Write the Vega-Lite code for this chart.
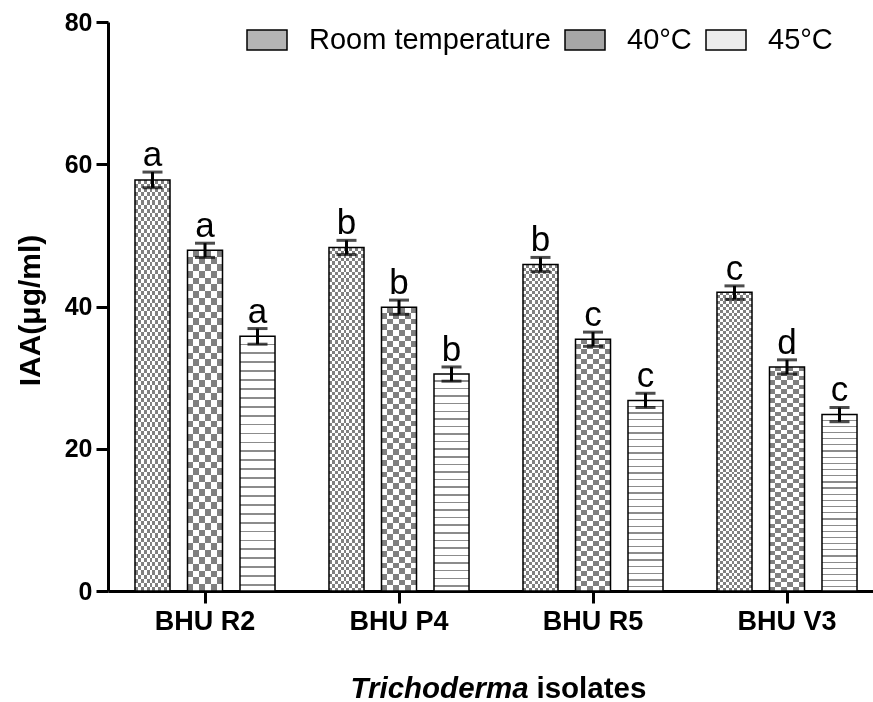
{
"$schema": "https://vega.github.io/schema/vega-lite/v6.json",
"width": 765, "height": 569,
"autosize": {"type": "none"},
"padding": {"left": 108, "top": 22, "right": 0, "bottom": 111},
"background": "white",
"config": {
 "view": {"stroke": null},
 "axis": {"domainColor": "#000", "domainWidth": 3, "tickColor": "#000", "tickWidth": 3, "labelFont": "Liberation Sans", "labelFontWeight": "bold", "labelColor": "#000", "titleFont": "Liberation Sans", "titleColor": "#000", "titleFontWeight": "bold", "grid": false},
 "axisY": {"tickCount": 4, "labelFontSize": 25, "tickSize": 12, "labelPadding": 4, "titleFontSize": 30, "titleAngle": 270, "titleX": -78, "titleY": 288, "titleAlign": "center", "titleBaseline": "middle"},
 "axisX": {"labelFontSize": 27, "tickSize": 12, "labelPadding": 5, "labelAngle": 0, "titleFontSize": 29.5}
},
"data": {"values": [
 {"isolate": "BHU R2", "temp": "Room temperature", "value": 57.8, "lo": 56.7, "hi": 58.9, "sig": "a"},
 {"isolate": "BHU R2", "temp": "40°C", "value": 47.9, "lo": 46.9, "hi": 48.9, "sig": "a"},
 {"isolate": "BHU R2", "temp": "45°C", "value": 35.8, "lo": 34.7, "hi": 36.9, "sig": "a"},
 {"isolate": "BHU P4", "temp": "Room temperature", "value": 48.3, "lo": 47.3, "hi": 49.3, "sig": "b"},
 {"isolate": "BHU P4", "temp": "40°C", "value": 39.9, "lo": 38.9, "hi": 40.9, "sig": "b"},
 {"isolate": "BHU P4", "temp": "45°C", "value": 30.5, "lo": 29.5, "hi": 31.5, "sig": "b"},
 {"isolate": "BHU R5", "temp": "Room temperature", "value": 45.9, "lo": 44.9, "hi": 46.9, "sig": "b"},
 {"isolate": "BHU R5", "temp": "40°C", "value": 35.4, "lo": 34.4, "hi": 36.4, "sig": "c"},
 {"isolate": "BHU R5", "temp": "45°C", "value": 26.8, "lo": 25.8, "hi": 27.8, "sig": "c"},
 {"isolate": "BHU V3", "temp": "Room temperature", "value": 42.0, "lo": 41.0, "hi": 42.9, "sig": "c"},
 {"isolate": "BHU V3", "temp": "40°C", "value": 31.5, "lo": 30.5, "hi": 32.5, "sig": "d"},
 {"isolate": "BHU V3", "temp": "45°C", "value": 24.8, "lo": 23.8, "hi": 25.8, "sig": "c"}
]},
"resolve": {"axis": {"x": "independent"}},
"encoding": {
 "x": {"field": "isolate", "type": "nominal", "axis": null, "scale": {"domain": ["BHU R2", "BHU P4", "BHU R5", "BHU V3"], "range": [0, 776], "paddingInner": 0, "paddingOuter": 0}},
 "xOffset": {"field": "temp", "type": "nominal", "scale": {"domain": ["Room temperature", "40°C", "45°C"], "paddingInner": 0.333, "paddingOuter": 0.514}},
 "y": {"field": "value", "type": "quantitative", "title": "IAA(μg/ml)", "scale": {"domain": [0, 80], "nice": false}}
},
"layer": [
 {"mark": {"type": "bar"},
  "encoding": {
   "fill": {"field": "temp", "type": "nominal",
    "scale": {"domain": ["Room temperature", "40°C", "45°C"], "range": ["#b4b4b4", "#a6a6a6", "#ececec"]},
    "legend": {"title": null, "orient": "none", "legendX": 138, "legendY": -3, "direction": "horizontal", "padding": 0,
     "labelFont": "Liberation Sans", "labelFontSize": 29, "labelColor": "#000", "labelOffset": 21, "labelLimit": 600, "columnPadding": 11,
     "symbolType": "M-1,-0.5H1V0.5H-1Z", "symbolSize": 1600, "symbolStrokeColor": "#000", "symbolStrokeWidth": 1.5, "symbolOpacity": 1}}}},
 {"transform": [{"filter": "datum.temp === 'Room temperature'"}],
  "mark": {"type": "bar", "fill": {"gradient": "linear", "x1": 0, "y1": 0, "x2": 1, "y2": 0, "stops": [
   {"offset": 0, "color": "#fff"}, {"offset": 0.0833, "color": "#fff"}, {"offset": 0.0833, "color": "#000"}, {"offset": 0.1667, "color": "#000"},
   {"offset": 0.1667, "color": "#fff"}, {"offset": 0.25, "color": "#fff"}, {"offset": 0.25, "color": "#000"}, {"offset": 0.3333, "color": "#000"},
   {"offset": 0.3333, "color": "#fff"}, {"offset": 0.4167, "color": "#fff"}, {"offset": 0.4167, "color": "#000"}, {"offset": 0.5, "color": "#000"},
   {"offset": 0.5, "color": "#fff"}, {"offset": 0.5833, "color": "#fff"}, {"offset": 0.5833, "color": "#000"}, {"offset": 0.6667, "color": "#000"},
   {"offset": 0.6667, "color": "#fff"}, {"offset": 0.75, "color": "#fff"}, {"offset": 0.75, "color": "#000"}, {"offset": 0.8333, "color": "#000"},
   {"offset": 0.8333, "color": "#fff"}, {"offset": 0.9167, "color": "#fff"}, {"offset": 0.9167, "color": "#000"}, {"offset": 1, "color": "#000"}]}}},
 {"transform": [{"filter": "datum.temp === 'Room temperature'"}],
  "mark": {"type": "bar", "blend": "difference", "fill": {"gradient": "linear", "x1": 0, "y1": 0, "x2": 0, "y2": 1, "stops": [
   {"offset": 0, "color": "#000"}, {"offset": 0.01, "color": "#000"}, {"offset": 0.01, "color": "#fff"}, {"offset": 0.02, "color": "#fff"},
   {"offset": 0.02, "color": "#000"}, {"offset": 0.03, "color": "#000"}, {"offset": 0.03, "color": "#fff"}, {"offset": 0.04, "color": "#fff"},
   {"offset": 0.04, "color": "#000"}, {"offset": 0.05, "color": "#000"}, {"offset": 0.05, "color": "#fff"}, {"offset": 0.06, "color": "#fff"},
   {"offset": 0.06, "color": "#000"}, {"offset": 0.07, "color": "#000"}, {"offset": 0.07, "color": "#fff"}, {"offset": 0.08, "color": "#fff"},
   {"offset": 0.08, "color": "#000"}, {"offset": 0.09, "color": "#000"}, {"offset": 0.09, "color": "#fff"}, {"offset": 0.10, "color": "#fff"},
   {"offset": 0.10, "color": "#000"}, {"offset": 0.11, "color": "#000"}, {"offset": 0.11, "color": "#fff"}, {"offset": 0.12, "color": "#fff"},
   {"offset": 0.12, "color": "#000"}, {"offset": 0.13, "color": "#000"}, {"offset": 0.13, "color": "#fff"}, {"offset": 0.14, "color": "#fff"},
   {"offset": 0.14, "color": "#000"}, {"offset": 0.15, "color": "#000"}, {"offset": 0.15, "color": "#fff"}, {"offset": 0.16, "color": "#fff"},
   {"offset": 0.16, "color": "#000"}, {"offset": 0.17, "color": "#000"}, {"offset": 0.17, "color": "#fff"}, {"offset": 0.18, "color": "#fff"},
   {"offset": 0.18, "color": "#000"}, {"offset": 0.19, "color": "#000"}, {"offset": 0.19, "color": "#fff"}, {"offset": 0.20, "color": "#fff"},
   {"offset": 0.20, "color": "#000"}, {"offset": 0.21, "color": "#000"}, {"offset": 0.21, "color": "#fff"}, {"offset": 0.22, "color": "#fff"},
   {"offset": 0.22, "color": "#000"}, {"offset": 0.23, "color": "#000"}, {"offset": 0.23, "color": "#fff"}, {"offset": 0.24, "color": "#fff"},
   {"offset": 0.24, "color": "#000"}, {"offset": 0.25, "color": "#000"}, {"offset": 0.25, "color": "#fff"}, {"offset": 0.26, "color": "#fff"},
   {"offset": 0.26, "color": "#000"}, {"offset": 0.27, "color": "#000"}, {"offset": 0.27, "color": "#fff"}, {"offset": 0.28, "color": "#fff"},
   {"offset": 0.28, "color": "#000"}, {"offset": 0.29, "color": "#000"}, {"offset": 0.29, "color": "#fff"}, {"offset": 0.30, "color": "#fff"},
   {"offset": 0.30, "color": "#000"}, {"offset": 0.31, "color": "#000"}, {"offset": 0.31, "color": "#fff"}, {"offset": 0.32, "color": "#fff"},
   {"offset": 0.32, "color": "#000"}, {"offset": 0.33, "color": "#000"}, {"offset": 0.33, "color": "#fff"}, {"offset": 0.34, "color": "#fff"},
   {"offset": 0.34, "color": "#000"}, {"offset": 0.35, "color": "#000"}, {"offset": 0.35, "color": "#fff"}, {"offset": 0.36, "color": "#fff"},
   {"offset": 0.36, "color": "#000"}, {"offset": 0.37, "color": "#000"}, {"offset": 0.37, "color": "#fff"}, {"offset": 0.38, "color": "#fff"},
   {"offset": 0.38, "color": "#000"}, {"offset": 0.39, "color": "#000"}, {"offset": 0.39, "color": "#fff"}, {"offset": 0.40, "color": "#fff"},
   {"offset": 0.40, "color": "#000"}, {"offset": 0.41, "color": "#000"}, {"offset": 0.41, "color": "#fff"}, {"offset": 0.42, "color": "#fff"},
   {"offset": 0.42, "color": "#000"}, {"offset": 0.43, "color": "#000"}, {"offset": 0.43, "color": "#fff"}, {"offset": 0.44, "color": "#fff"},
   {"offset": 0.44, "color": "#000"}, {"offset": 0.45, "color": "#000"}, {"offset": 0.45, "color": "#fff"}, {"offset": 0.46, "color": "#fff"},
   {"offset": 0.46, "color": "#000"}, {"offset": 0.47, "color": "#000"}, {"offset": 0.47, "color": "#fff"}, {"offset": 0.48, "color": "#fff"},
   {"offset": 0.48, "color": "#000"}, {"offset": 0.49, "color": "#000"}, {"offset": 0.49, "color": "#fff"}, {"offset": 0.50, "color": "#fff"},
   {"offset": 0.50, "color": "#000"}, {"offset": 0.51, "color": "#000"}, {"offset": 0.51, "color": "#fff"}, {"offset": 0.52, "color": "#fff"},
   {"offset": 0.52, "color": "#000"}, {"offset": 0.53, "color": "#000"}, {"offset": 0.53, "color": "#fff"}, {"offset": 0.54, "color": "#fff"},
   {"offset": 0.54, "color": "#000"}, {"offset": 0.55, "color": "#000"}, {"offset": 0.55, "color": "#fff"}, {"offset": 0.56, "color": "#fff"},
   {"offset": 0.56, "color": "#000"}, {"offset": 0.57, "color": "#000"}, {"offset": 0.57, "color": "#fff"}, {"offset": 0.58, "color": "#fff"},
   {"offset": 0.58, "color": "#000"}, {"offset": 0.59, "color": "#000"}, {"offset": 0.59, "color": "#fff"}, {"offset": 0.60, "color": "#fff"},
   {"offset": 0.60, "color": "#000"}, {"offset": 0.61, "color": "#000"}, {"offset": 0.61, "color": "#fff"}, {"offset": 0.62, "color": "#fff"},
   {"offset": 0.62, "color": "#000"}, {"offset": 0.63, "color": "#000"}, {"offset": 0.63, "color": "#fff"}, {"offset": 0.64, "color": "#fff"},
   {"offset": 0.64, "color": "#000"}, {"offset": 0.65, "color": "#000"}, {"offset": 0.65, "color": "#fff"}, {"offset": 0.66, "color": "#fff"},
   {"offset": 0.66, "color": "#000"}, {"offset": 0.67, "color": "#000"}, {"offset": 0.67, "color": "#fff"}, {"offset": 0.68, "color": "#fff"},
   {"offset": 0.68, "color": "#000"}, {"offset": 0.69, "color": "#000"}, {"offset": 0.69, "color": "#fff"}, {"offset": 0.70, "color": "#fff"},
   {"offset": 0.70, "color": "#000"}, {"offset": 0.71, "color": "#000"}, {"offset": 0.71, "color": "#fff"}, {"offset": 0.72, "color": "#fff"},
   {"offset": 0.72, "color": "#000"}, {"offset": 0.73, "color": "#000"}, {"offset": 0.73, "color": "#fff"}, {"offset": 0.74, "color": "#fff"},
   {"offset": 0.74, "color": "#000"}, {"offset": 0.75, "color": "#000"}, {"offset": 0.75, "color": "#fff"}, {"offset": 0.76, "color": "#fff"},
   {"offset": 0.76, "color": "#000"}, {"offset": 0.77, "color": "#000"}, {"offset": 0.77, "color": "#fff"}, {"offset": 0.78, "color": "#fff"},
   {"offset": 0.78, "color": "#000"}, {"offset": 0.79, "color": "#000"}, {"offset": 0.79, "color": "#fff"}, {"offset": 0.80, "color": "#fff"},
   {"offset": 0.80, "color": "#000"}, {"offset": 0.81, "color": "#000"}, {"offset": 0.81, "color": "#fff"}, {"offset": 0.82, "color": "#fff"},
   {"offset": 0.82, "color": "#000"}, {"offset": 0.83, "color": "#000"}, {"offset": 0.83, "color": "#fff"}, {"offset": 0.84, "color": "#fff"},
   {"offset": 0.84, "color": "#000"}, {"offset": 0.85, "color": "#000"}, {"offset": 0.85, "color": "#fff"}, {"offset": 0.86, "color": "#fff"},
   {"offset": 0.86, "color": "#000"}, {"offset": 0.87, "color": "#000"}, {"offset": 0.87, "color": "#fff"}, {"offset": 0.88, "color": "#fff"},
   {"offset": 0.88, "color": "#000"}, {"offset": 0.89, "color": "#000"}, {"offset": 0.89, "color": "#fff"}, {"offset": 0.90, "color": "#fff"},
   {"offset": 0.90, "color": "#000"}, {"offset": 0.91, "color": "#000"}, {"offset": 0.91, "color": "#fff"}, {"offset": 0.92, "color": "#fff"},
   {"offset": 0.92, "color": "#000"}, {"offset": 0.93, "color": "#000"}, {"offset": 0.93, "color": "#fff"}, {"offset": 0.94, "color": "#fff"},
   {"offset": 0.94, "color": "#000"}, {"offset": 0.95, "color": "#000"}, {"offset": 0.95, "color": "#fff"}, {"offset": 0.96, "color": "#fff"},
   {"offset": 0.96, "color": "#000"}, {"offset": 0.97, "color": "#000"}, {"offset": 0.97, "color": "#fff"}, {"offset": 0.98, "color": "#fff"},
   {"offset": 0.98, "color": "#000"}, {"offset": 0.99, "color": "#000"}, {"offset": 0.99, "color": "#fff"}, {"offset": 1, "color": "#fff"}]}}},
 {"transform": [{"filter": "datum.temp === '40°C'"}],
  "mark": {"type": "bar", "fill": {"gradient": "linear", "x1": 0, "y1": 0, "x2": 1, "y2": 0, "stops": [
   {"offset": 0, "color": "#fff"}, {"offset": 0.1667, "color": "#fff"}, {"offset": 0.1667, "color": "#000"}, {"offset": 0.3333, "color": "#000"},
   {"offset": 0.3333, "color": "#fff"}, {"offset": 0.5, "color": "#fff"}, {"offset": 0.5, "color": "#000"}, {"offset": 0.6667, "color": "#000"},
   {"offset": 0.6667, "color": "#fff"}, {"offset": 0.8333, "color": "#fff"}, {"offset": 0.8333, "color": "#000"}, {"offset": 1, "color": "#000"}]}}},
 {"transform": [{"filter": "datum.temp === '40°C'"}],
  "mark": {"type": "bar", "blend": "difference", "fill": {"gradient": "linear", "x1": 0, "y1": 0, "x2": 0, "y2": 1, "stops": [
   {"offset": 0, "color": "#000"}, {"offset": 0.02, "color": "#000"}, {"offset": 0.02, "color": "#fff"}, {"offset": 0.04, "color": "#fff"},
   {"offset": 0.04, "color": "#000"}, {"offset": 0.06, "color": "#000"}, {"offset": 0.06, "color": "#fff"}, {"offset": 0.08, "color": "#fff"},
   {"offset": 0.08, "color": "#000"}, {"offset": 0.10, "color": "#000"}, {"offset": 0.10, "color": "#fff"}, {"offset": 0.12, "color": "#fff"},
   {"offset": 0.12, "color": "#000"}, {"offset": 0.14, "color": "#000"}, {"offset": 0.14, "color": "#fff"}, {"offset": 0.16, "color": "#fff"},
   {"offset": 0.16, "color": "#000"}, {"offset": 0.18, "color": "#000"}, {"offset": 0.18, "color": "#fff"}, {"offset": 0.20, "color": "#fff"},
   {"offset": 0.20, "color": "#000"}, {"offset": 0.22, "color": "#000"}, {"offset": 0.22, "color": "#fff"}, {"offset": 0.24, "color": "#fff"},
   {"offset": 0.24, "color": "#000"}, {"offset": 0.26, "color": "#000"}, {"offset": 0.26, "color": "#fff"}, {"offset": 0.28, "color": "#fff"},
   {"offset": 0.28, "color": "#000"}, {"offset": 0.30, "color": "#000"}, {"offset": 0.30, "color": "#fff"}, {"offset": 0.32, "color": "#fff"},
   {"offset": 0.32, "color": "#000"}, {"offset": 0.34, "color": "#000"}, {"offset": 0.34, "color": "#fff"}, {"offset": 0.36, "color": "#fff"},
   {"offset": 0.36, "color": "#000"}, {"offset": 0.38, "color": "#000"}, {"offset": 0.38, "color": "#fff"}, {"offset": 0.40, "color": "#fff"},
   {"offset": 0.40, "color": "#000"}, {"offset": 0.42, "color": "#000"}, {"offset": 0.42, "color": "#fff"}, {"offset": 0.44, "color": "#fff"},
   {"offset": 0.44, "color": "#000"}, {"offset": 0.46, "color": "#000"}, {"offset": 0.46, "color": "#fff"}, {"offset": 0.48, "color": "#fff"},
   {"offset": 0.48, "color": "#000"}, {"offset": 0.50, "color": "#000"}, {"offset": 0.50, "color": "#fff"}, {"offset": 0.52, "color": "#fff"},
   {"offset": 0.52, "color": "#000"}, {"offset": 0.54, "color": "#000"}, {"offset": 0.54, "color": "#fff"}, {"offset": 0.56, "color": "#fff"},
   {"offset": 0.56, "color": "#000"}, {"offset": 0.58, "color": "#000"}, {"offset": 0.58, "color": "#fff"}, {"offset": 0.60, "color": "#fff"},
   {"offset": 0.60, "color": "#000"}, {"offset": 0.62, "color": "#000"}, {"offset": 0.62, "color": "#fff"}, {"offset": 0.64, "color": "#fff"},
   {"offset": 0.64, "color": "#000"}, {"offset": 0.66, "color": "#000"}, {"offset": 0.66, "color": "#fff"}, {"offset": 0.68, "color": "#fff"},
   {"offset": 0.68, "color": "#000"}, {"offset": 0.70, "color": "#000"}, {"offset": 0.70, "color": "#fff"}, {"offset": 0.72, "color": "#fff"},
   {"offset": 0.72, "color": "#000"}, {"offset": 0.74, "color": "#000"}, {"offset": 0.74, "color": "#fff"}, {"offset": 0.76, "color": "#fff"},
   {"offset": 0.76, "color": "#000"}, {"offset": 0.78, "color": "#000"}, {"offset": 0.78, "color": "#fff"}, {"offset": 0.80, "color": "#fff"},
   {"offset": 0.80, "color": "#000"}, {"offset": 0.82, "color": "#000"}, {"offset": 0.82, "color": "#fff"}, {"offset": 0.84, "color": "#fff"},
   {"offset": 0.84, "color": "#000"}, {"offset": 0.86, "color": "#000"}, {"offset": 0.86, "color": "#fff"}, {"offset": 0.88, "color": "#fff"},
   {"offset": 0.88, "color": "#000"}, {"offset": 0.90, "color": "#000"}, {"offset": 0.90, "color": "#fff"}, {"offset": 0.92, "color": "#fff"},
   {"offset": 0.92, "color": "#000"}, {"offset": 0.94, "color": "#000"}, {"offset": 0.94, "color": "#fff"}, {"offset": 0.96, "color": "#fff"},
   {"offset": 0.96, "color": "#000"}, {"offset": 0.98, "color": "#000"}, {"offset": 0.98, "color": "#fff"}, {"offset": 1, "color": "#fff"}]}}},
 {"transform": [{"filter": "datum.temp === '45°C'"}],
  "mark": {"type": "bar", "fill": {"gradient": "linear", "x1": 0, "y1": 0, "x2": 0, "y2": 1, "stops": [
   {"offset": 0, "color": "#fff"},
   {"offset": 0.028, "color": "#fff"}, {"offset": 0.028, "color": "#8c8c8c"}, {"offset": 0.035, "color": "#8c8c8c"}, {"offset": 0.035, "color": "#fff"},
   {"offset": 0.063, "color": "#fff"}, {"offset": 0.063, "color": "#8c8c8c"}, {"offset": 0.07, "color": "#8c8c8c"}, {"offset": 0.07, "color": "#fff"},
   {"offset": 0.098, "color": "#fff"}, {"offset": 0.098, "color": "#8c8c8c"}, {"offset": 0.105, "color": "#8c8c8c"}, {"offset": 0.105, "color": "#fff"},
   {"offset": 0.133, "color": "#fff"}, {"offset": 0.133, "color": "#8c8c8c"}, {"offset": 0.14, "color": "#8c8c8c"}, {"offset": 0.14, "color": "#fff"},
   {"offset": 0.168, "color": "#fff"}, {"offset": 0.168, "color": "#8c8c8c"}, {"offset": 0.175, "color": "#8c8c8c"}, {"offset": 0.175, "color": "#fff"},
   {"offset": 0.203, "color": "#fff"}, {"offset": 0.203, "color": "#8c8c8c"}, {"offset": 0.21, "color": "#8c8c8c"}, {"offset": 0.21, "color": "#fff"},
   {"offset": 0.238, "color": "#fff"}, {"offset": 0.238, "color": "#8c8c8c"}, {"offset": 0.245, "color": "#8c8c8c"}, {"offset": 0.245, "color": "#fff"},
   {"offset": 0.273, "color": "#fff"}, {"offset": 0.273, "color": "#8c8c8c"}, {"offset": 0.28, "color": "#8c8c8c"}, {"offset": 0.28, "color": "#fff"},
   {"offset": 0.308, "color": "#fff"}, {"offset": 0.308, "color": "#8c8c8c"}, {"offset": 0.315, "color": "#8c8c8c"}, {"offset": 0.315, "color": "#fff"},
   {"offset": 0.343, "color": "#fff"}, {"offset": 0.343, "color": "#8c8c8c"}, {"offset": 0.35, "color": "#8c8c8c"}, {"offset": 0.35, "color": "#fff"},
   {"offset": 0.378, "color": "#fff"}, {"offset": 0.378, "color": "#8c8c8c"}, {"offset": 0.385, "color": "#8c8c8c"}, {"offset": 0.385, "color": "#fff"},
   {"offset": 0.413, "color": "#fff"}, {"offset": 0.413, "color": "#8c8c8c"}, {"offset": 0.42, "color": "#8c8c8c"}, {"offset": 0.42, "color": "#fff"},
   {"offset": 0.448, "color": "#fff"}, {"offset": 0.448, "color": "#8c8c8c"}, {"offset": 0.455, "color": "#8c8c8c"}, {"offset": 0.455, "color": "#fff"},
   {"offset": 0.483, "color": "#fff"}, {"offset": 0.483, "color": "#8c8c8c"}, {"offset": 0.49, "color": "#8c8c8c"}, {"offset": 0.49, "color": "#fff"},
   {"offset": 0.518, "color": "#fff"}, {"offset": 0.518, "color": "#8c8c8c"}, {"offset": 0.525, "color": "#8c8c8c"}, {"offset": 0.525, "color": "#fff"},
   {"offset": 0.553, "color": "#fff"}, {"offset": 0.553, "color": "#8c8c8c"}, {"offset": 0.56, "color": "#8c8c8c"}, {"offset": 0.56, "color": "#fff"},
   {"offset": 0.588, "color": "#fff"}, {"offset": 0.588, "color": "#8c8c8c"}, {"offset": 0.595, "color": "#8c8c8c"}, {"offset": 0.595, "color": "#fff"},
   {"offset": 0.623, "color": "#fff"}, {"offset": 0.623, "color": "#8c8c8c"}, {"offset": 0.63, "color": "#8c8c8c"}, {"offset": 0.63, "color": "#fff"},
   {"offset": 0.658, "color": "#fff"}, {"offset": 0.658, "color": "#8c8c8c"}, {"offset": 0.665, "color": "#8c8c8c"}, {"offset": 0.665, "color": "#fff"},
   {"offset": 0.693, "color": "#fff"}, {"offset": 0.693, "color": "#8c8c8c"}, {"offset": 0.7, "color": "#8c8c8c"}, {"offset": 0.7, "color": "#fff"},
   {"offset": 0.728, "color": "#fff"}, {"offset": 0.728, "color": "#8c8c8c"}, {"offset": 0.735, "color": "#8c8c8c"}, {"offset": 0.735, "color": "#fff"},
   {"offset": 0.763, "color": "#fff"}, {"offset": 0.763, "color": "#8c8c8c"}, {"offset": 0.77, "color": "#8c8c8c"}, {"offset": 0.77, "color": "#fff"},
   {"offset": 0.798, "color": "#fff"}, {"offset": 0.798, "color": "#8c8c8c"}, {"offset": 0.805, "color": "#8c8c8c"}, {"offset": 0.805, "color": "#fff"},
   {"offset": 0.833, "color": "#fff"}, {"offset": 0.833, "color": "#8c8c8c"}, {"offset": 0.84, "color": "#8c8c8c"}, {"offset": 0.84, "color": "#fff"},
   {"offset": 0.868, "color": "#fff"}, {"offset": 0.868, "color": "#8c8c8c"}, {"offset": 0.875, "color": "#8c8c8c"}, {"offset": 0.875, "color": "#fff"},
   {"offset": 0.903, "color": "#fff"}, {"offset": 0.903, "color": "#8c8c8c"}, {"offset": 0.91, "color": "#8c8c8c"}, {"offset": 0.91, "color": "#fff"},
   {"offset": 0.938, "color": "#fff"}, {"offset": 0.938, "color": "#8c8c8c"}, {"offset": 0.945, "color": "#8c8c8c"}, {"offset": 0.945, "color": "#fff"},
   {"offset": 0.973, "color": "#fff"}, {"offset": 0.973, "color": "#8c8c8c"}, {"offset": 0.98, "color": "#8c8c8c"}, {"offset": 0.98, "color": "#fff"},
   {"offset": 1, "color": "#fff"}]}}},
 {"mark": {"type": "bar", "stroke": "#000", "strokeWidth": 1.5},
  "encoding": {
   "x": {"field": "isolate", "type": "nominal", "scale": {"domain": ["BHU R2", "BHU P4", "BHU R5", "BHU V3"], "range": [0, 776], "paddingInner": 0, "paddingOuter": 0},
    "axis": {"orient": "bottom", "title": "Trichoderma", "titleFontStyle": "italic", "titleX": 242, "titleY": 106, "titleAlign": "left", "titleBaseline": "alphabetic"}},
   "fill": {"condition": {"test": "datum.temp === '45°C'", "value": "rgba(255,255,255,0)"}, "value": "rgba(255,255,255,0.5)"}
  }},
 {"mark": {"type": "rule", "color": "#000", "strokeWidth": 3},
  "encoding": {"y": {"field": "lo", "type": "quantitative", "title": "IAA(μg/ml)"}, "y2": {"field": "hi"}}},
 {"mark": {"type": "tick", "color": "#000", "size": 20, "thickness": 3},
  "encoding": {"y": {"field": "lo", "type": "quantitative", "title": "IAA(μg/ml)"}}},
 {"mark": {"type": "tick", "color": "#000", "size": 20, "thickness": 3},
  "encoding": {"y": {"field": "hi", "type": "quantitative", "title": "IAA(μg/ml)"}}},
 {"mark": {"type": "text", "font": "Liberation Sans", "fontSize": 35, "color": "#000", "baseline": "alphabetic", "dy": -6},
  "encoding": {
   "x": {"field": "isolate", "type": "nominal", "scale": {"domain": ["BHU R2", "BHU P4", "BHU R5", "BHU V3"], "range": [0, 776], "paddingInner": 0, "paddingOuter": 0},
    "axis": {"orient": "bottom", "domain": false, "ticks": false, "labels": false, "title": "isolates", "titleX": 428, "titleY": 106, "titleAlign": "left", "titleBaseline": "alphabetic"}},
   "y": {"field": "hi", "type": "quantitative", "title": "IAA(μg/ml)"},
   "text": {"field": "sig"}}}
]
}
